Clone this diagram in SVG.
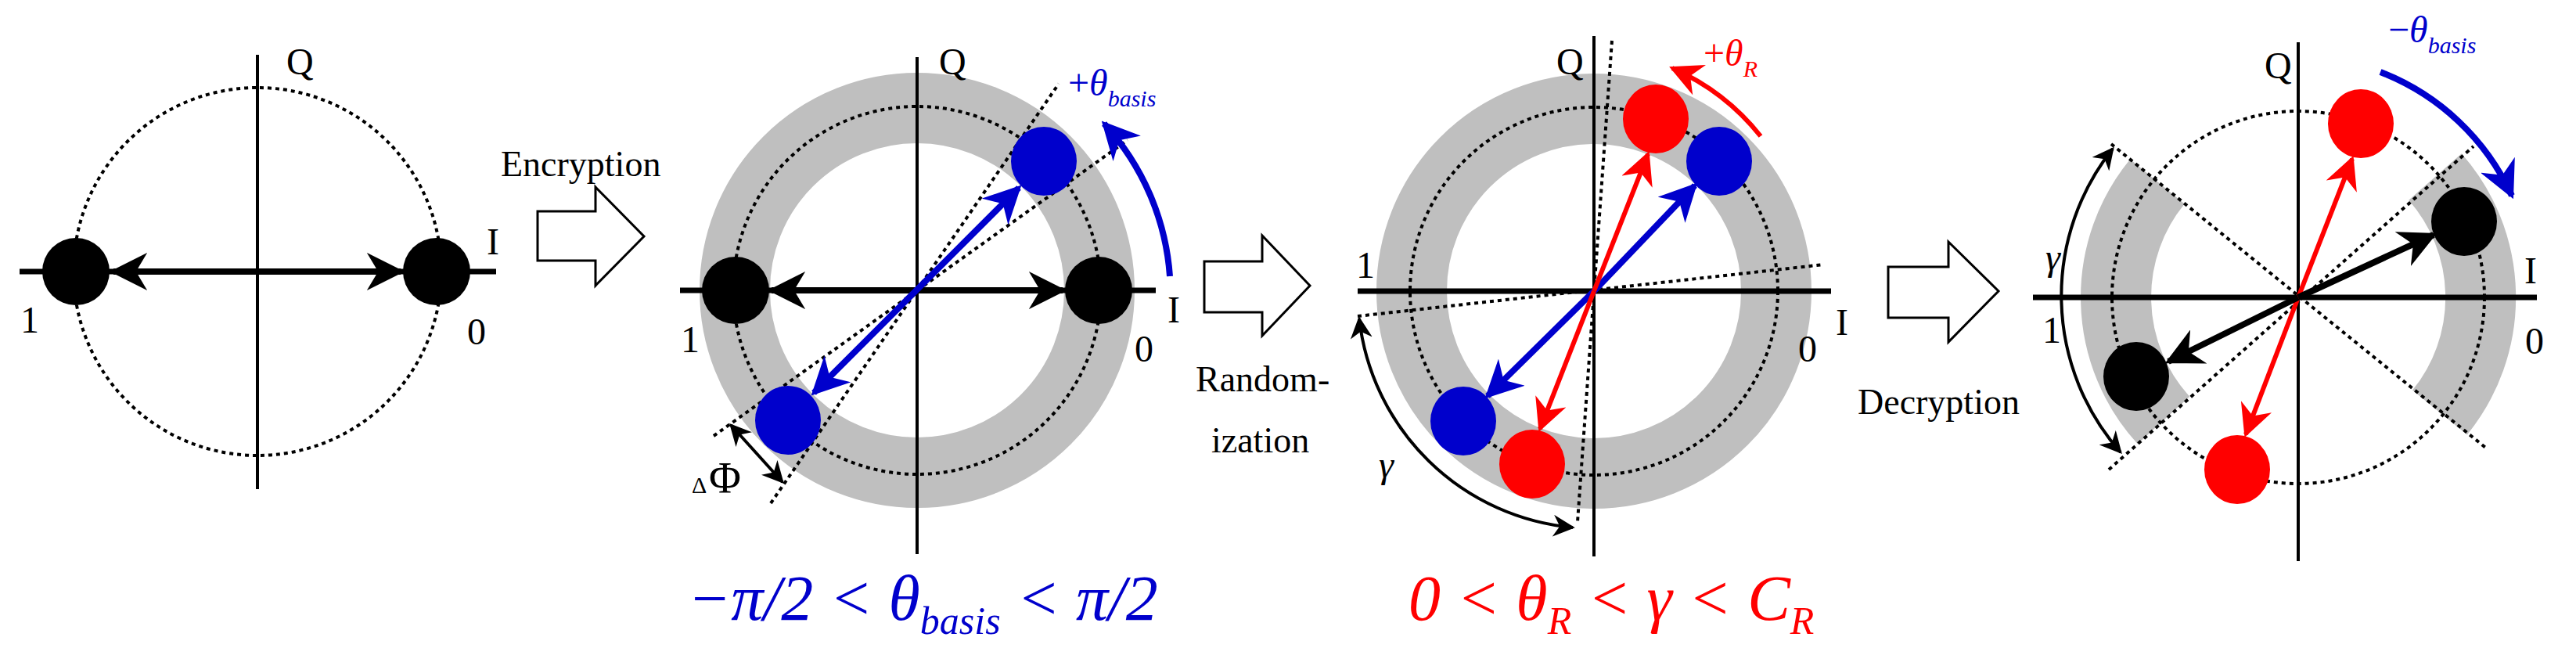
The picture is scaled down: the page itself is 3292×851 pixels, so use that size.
<svg xmlns="http://www.w3.org/2000/svg" width="3292" height="851" viewBox="0 0 3292 851" font-family="'Liberation Serif', 'Times New Roman', serif">
<style>
text{font-family:'Liberation Serif','Times New Roman',serif;}
.lbl{font-size:48px;fill:#000}
.ax{stroke:#000;stroke-width:4;fill:none}
.hax{stroke:#000;stroke-width:7;fill:none}
.dot{stroke:#000;stroke-width:4;stroke-dasharray:5 5;fill:none}
.ring{stroke:#bfbfbf;stroke-width:90;fill:none}
.blk{stroke:#000;stroke-width:8;fill:none}
.blu{stroke:#0000cc;stroke-width:8;fill:none}
.red{stroke:#ff0000;stroke-width:6;fill:none}
.thin{stroke:#000;stroke-width:4;fill:none}
.barrow{fill:#fff;stroke:#000;stroke-width:3}
.it{font-style:italic}
</style>
<defs>
<marker id="ak" viewBox="0 0 10 10" refX="9" refY="5" markerWidth="6" markerHeight="6" orient="auto-start-reverse" markerUnits="strokeWidth"><path d="M0,0 L10,5 L0,10 L3,5z" fill="#000"/></marker>
<marker id="ak2" viewBox="0 0 10 10" refX="9" refY="5" markerWidth="7" markerHeight="7" orient="auto-start-reverse" markerUnits="strokeWidth"><path d="M0,0 L10,5 L0,10 L3,5z" fill="#000"/></marker>
<marker id="ab" viewBox="0 0 10 10" refX="9" refY="5" markerWidth="6" markerHeight="6" orient="auto-start-reverse" markerUnits="strokeWidth"><path d="M0,0 L10,5 L0,10 L3,5z" fill="#0000cc"/></marker>
<marker id="ar" viewBox="0 0 10 10" refX="9" refY="5" markerWidth="7" markerHeight="7" orient="auto-start-reverse" markerUnits="strokeWidth"><path d="M0,0 L10,5 L0,10 L3,5z" fill="#ff0000"/></marker>
</defs>

<g id="panel1">
<circle class="dot" cx="329" cy="347" r="235"/>
<line class="ax" x1="329" y1="70" x2="329" y2="625"/>
<line class="hax" x1="25" y1="347" x2="634" y2="347"/>
<circle cx="97" cy="347" r="43" fill="#000"/>
<circle cx="558" cy="347" r="43" fill="#000"/>
<line class="blk" x1="145" y1="347" x2="512" y2="347" marker-start="url(#ak)" marker-end="url(#ak)"/>
<text class="lbl" x="366" y="95">Q</text>
<text class="lbl" x="622" y="325">I</text>
<text class="lbl" x="26" y="425">1</text>
<text class="lbl" x="597" y="440">0</text>
</g>

<g id="enc">
<path class="barrow" d="M687,270 H761 V239 L823,302 L761,365 V333 H687 Z"/>
<text x="640" y="225" font-size="46">Encryption</text>
</g>

<g id="panel2">
<circle class="ring" cx="1172" cy="371" r="233"/>
<circle class="dot" cx="1172" cy="371" r="235"/>
<line class="ax" x1="1172" y1="73" x2="1172" y2="708"/>
<line class="hax" x1="869" y1="371" x2="1477" y2="371"/>
<line class="dot" x1="985" y1="643" x2="1353" y2="107"/>
<line class="dot" x1="912" y1="557" x2="1441" y2="179"/>
<circle cx="940" cy="371" r="43" fill="#000"/>
<circle cx="1404" cy="371" r="43" fill="#000"/>
<ellipse cx="1334" cy="206" rx="42" ry="44" fill="#0000cc"/>
<ellipse cx="1007" cy="537" rx="42" ry="44" fill="#0000cc"/>
<line class="blk" x1="986" y1="371" x2="1358" y2="371" marker-start="url(#ak)" marker-end="url(#ak)"/>
<line class="blu" x1="1040" y1="502" x2="1302" y2="240" marker-start="url(#ab)" marker-end="url(#ab)"/>
<path class="blu" d="M1495,353 A322,322 0 0 0 1411,158" marker-end="url(#ab)"/>
<line class="thin" x1="934" y1="543" x2="1000" y2="616" marker-start="url(#ak2)" marker-end="url(#ak2)"/>
<text x="884" y="630" font-size="30">Δ</text><text x="906" y="630" font-size="56">Φ</text>
<text class="lbl" x="1200" y="95">Q</text>
<text class="lbl" x="1492" y="412">I</text>
<text class="lbl" x="870" y="450">1</text>
<text class="lbl" x="1450" y="462">0</text>
<text x="1365" y="122" fill="#0000cc" font-size="48">+<tspan class="it">θ</tspan><tspan class="it" font-size="30" dy="14">basis</tspan></text>
<text x="879" y="792" fill="#0000cc" font-size="82" class="it">−π/2 &lt; θ<tspan font-size="50" dy="18">basis</tspan><tspan dy="-18"> &lt; π/2</tspan></text>
</g>

<g id="rand">
<path class="barrow" d="M1539,334 H1613 V301 L1674,365 L1613,429 V399 H1539 Z"/>
<text x="1528" y="500" font-size="46">Random-</text>
<text x="1548" y="578" font-size="46">ization</text>
</g>

<g id="panel3">
<circle class="ring" cx="2037" cy="372" r="233"/>
<circle class="dot" cx="2037" cy="372" r="235"/>
<line class="ax" x1="2037" y1="46" x2="2037" y2="711"/>
<line class="hax" x1="1735" y1="372" x2="2340" y2="372"/>
<line class="dot" x1="2060" y1="52" x2="2016" y2="667"/>
<line class="dot" x1="1735" y1="404" x2="2331" y2="338"/>
<ellipse cx="2116" cy="152" rx="42" ry="44" fill="#ff0000"/>
<ellipse cx="2197" cy="206" rx="42" ry="44" fill="#0000cc"/>
<ellipse cx="1870" cy="538" rx="42" ry="44" fill="#0000cc"/>
<ellipse cx="1958" cy="593" rx="42" ry="44" fill="#ff0000"/>
<line class="blu" x1="2037" y1="372" x2="2166" y2="237" marker-end="url(#ab)"/>
<line class="blu" x1="2037" y1="372" x2="1901" y2="506" marker-end="url(#ab)"/>
<line class="red" x1="2037" y1="372" x2="2106" y2="197" marker-end="url(#ar)"/>
<line class="red" x1="2037" y1="372" x2="1968" y2="548" marker-end="url(#ar)"/>
<path class="red" d="M2250,174 A296,296 0 0 0 2137,87" stroke-width="8" marker-end="url(#ar)"/>
<path class="thin" d="M1737,407 A302,302 0 0 0 2010,674" marker-start="url(#ak2)" marker-end="url(#ak2)"/>
<text class="lbl it" x="1762" y="610">γ</text>
<text class="lbl" x="1989" y="95">Q</text>
<text class="lbl" x="2346" y="428">I</text>
<text class="lbl" x="2298" y="462">0</text>
<text class="lbl" x="1733" y="355">1</text>
<text x="2177" y="84" fill="#ff0000" font-size="48">+<tspan class="it">θ</tspan><tspan class="it" font-size="30" dy="14">R</tspan></text>
<text x="1800" y="792" fill="#ff0000" font-size="82" class="it">0 &lt; θ<tspan font-size="50" dy="18">R</tspan><tspan dy="-18"> &lt; γ &lt; C</tspan><tspan font-size="50" dy="18">R</tspan></text>
</g>

<g id="dec">
<path class="barrow" d="M2413,341 H2490 V309 L2554,372 L2490,437 V406 H2413 Z"/>
<text x="2374" y="529" font-size="46">Decryption</text>
</g>

<g id="panel4">
<path class="ring" d="M3112,226 A233,233 0 0 1 3118,527"/>
<path class="ring" d="M2757,232 A233,233 0 0 0 2765,537"/>
<circle class="dot" cx="2937" cy="380" r="238"/>
<line class="ax" x1="2937" y1="54" x2="2937" y2="717"/>
<line class="hax" x1="2598" y1="380" x2="3242" y2="380"/>
<line class="dot" x1="2698" y1="184" x2="3179" y2="574"/>
<line class="dot" x1="2695" y1="600" x2="3161" y2="187"/>
<ellipse cx="3017" cy="158" rx="42" ry="44" fill="#ff0000"/>
<ellipse cx="3149" cy="283" rx="42" ry="44" fill="#000"/>
<ellipse cx="2730" cy="481" rx="42" ry="44" fill="#000"/>
<ellipse cx="2859" cy="600" rx="42" ry="44" fill="#ff0000"/>
<line class="red" x1="2937" y1="380" x2="3006" y2="203" marker-end="url(#ar)"/>
<line class="red" x1="2937" y1="380" x2="2870" y2="555" marker-end="url(#ar)"/>
<line class="blk" x1="2937" y1="380" x2="3110" y2="300" marker-end="url(#ak)"/>
<line class="blk" x1="2937" y1="380" x2="2771" y2="462" marker-end="url(#ak)"/>
<path class="blu" d="M3042,92 A306,306 0 0 1 3210,250" stroke-width="10" marker-end="url(#ab)"/>
<path class="thin" d="M2700,190 A302,302 0 0 0 2710,578" marker-start="url(#ak2)" marker-end="url(#ak2)"/>
<text class="lbl it" x="2614" y="345">γ</text>
<text class="lbl" x="2894" y="100">Q</text>
<text class="lbl" x="3226" y="362">I</text>
<text class="lbl" x="3227" y="452">0</text>
<text class="lbl" x="2610" y="438">1</text>
<text x="3052" y="54" fill="#0000cc" font-size="48">−<tspan class="it">θ</tspan><tspan class="it" font-size="30" dy="14">basis</tspan></text>
</g>
</svg>
